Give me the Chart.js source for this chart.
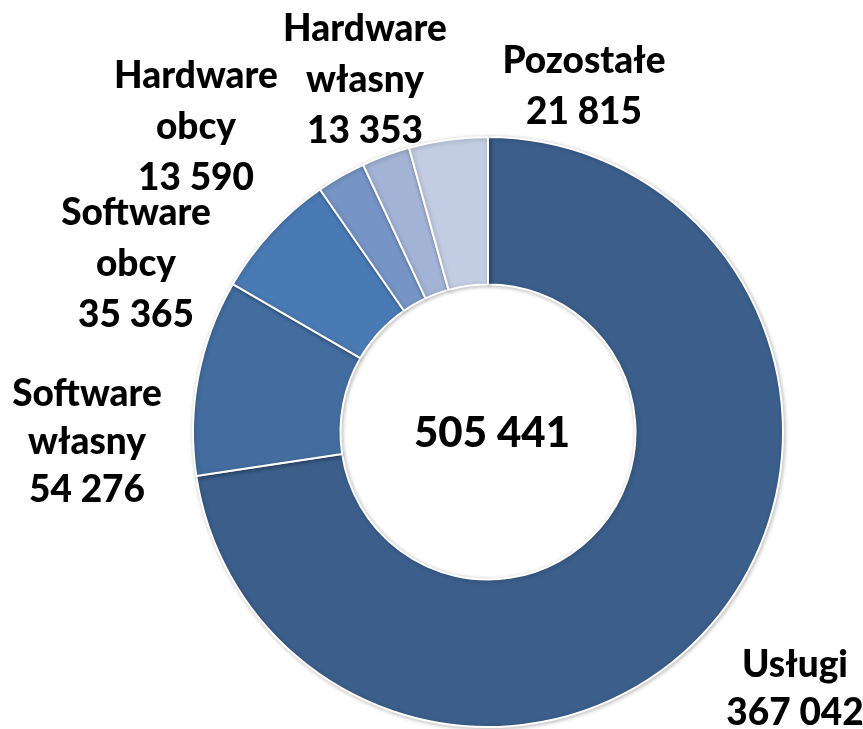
<!DOCTYPE html>
<html>
<head>
<meta charset="utf-8">
<script src="https://cdn.jsdelivr.net/npm/chart.js@4/dist/chart.umd.min.js"></script>
<style>
  html, body { margin: 0; padding: 0; background: #fff; }
  #wrap { position: relative; width: 863px; height: 729px; }
</style>
</head>
<body>
<div id="wrap"><canvas id="donut"></canvas></div>
<script>
// data
const categories = ['Usługi', 'Software własny', 'Software obcy', 'Hardware obcy', 'Hardware własny', 'Pozostałe'];
const values = [367042, 54276, 35365, 13590, 13353, 21815];
const colors = ['#3B5E8B', '#436D9F', '#4A7AB4', '#7694C5', '#A2B3D6', '#C2CDE3'];

// label layout: [x, first line y]
const labelPos = [
    [795, 665],
    [87, 394],
    [136, 213],
    [196, 76],
    [365, 29],
    [584, 61]
];

const fmt = v => String(v).replace(/\B(?=(\d{3})+(?!\d))/g, ' ');
const total = values.reduce((a, b) => a + b, 0);

const labelsPlugin = {
    id: 'labels',
    beforeDatasetsDraw(chart) {
        const ctx = chart.ctx;
        ctx.save();
        ctx.shadowColor = 'rgba(0,0,0,0.25)';
        ctx.shadowBlur = 4;
        ctx.shadowOffsetX = 1;
        ctx.shadowOffsetY = 1;
    },
    afterDatasetsDraw(chart) {
        const ctx = chart.ctx;
        ctx.restore();
        ctx.save();
        ctx.fillStyle = '#000';
        ctx.textAlign = 'center';
        ctx.textBaseline = 'middle';
        ctx.font = '900 37px Lato, "Open Sans", sans-serif';

        categories.forEach((name, i) => {
            const [x, y] = labelPos[i];
            const lines = name.split(' ').concat([fmt(values[i])]);
            const step = i < 2 ? 48 : 51;
            lines.forEach((t, j) => ctx.fillText(t, x, y + j * step));
        });

        const a = chart.getDatasetMeta(0).data[0];
        ctx.font = '900 42px Lato, "Open Sans", sans-serif';
        ctx.fillText(fmt(total), a.x + 4, a.y + 1);
        ctx.restore();
    }
};

new Chart(document.getElementById('donut'), {
    type: 'doughnut',
    data: {
        labels: categories,
        datasets: [{
            data: values,
            backgroundColor: colors,
            borderColor: '#ffffff',
            borderWidth: 2
        }]
    },
    options: {
        responsive: true,
        maintainAspectRatio: false,
        animation: false,
        cutout: '50%',
        layout: { padding: { left: 192, right: 79, top: 136, bottom: 1 } },
        plugins: {
            legend: { display: false },
            tooltip: { enabled: false }
        }
    },
    plugins: [labelsPlugin]
});
</script>
</body>
</html>
